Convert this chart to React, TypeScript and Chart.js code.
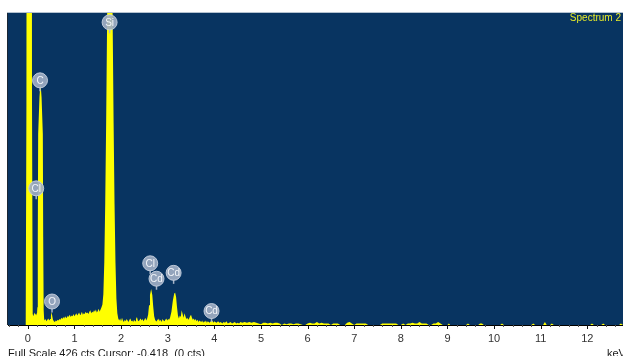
import React, { useEffect, useRef } from 'react';
import { Chart, registerables } from 'chart.js';

Chart.register(...registerables);

// ---- Data ----
const energyKeV = [
  -0.425, -0.06, -0.045, -0.03, -0.015, 0.075, 0.09, 0.105, 0.12, 0.14,
  0.16, 0.18, 0.195, 0.205, 0.214, 0.222, 0.25, 0.272, 0.295, 0.322,
  0.330, 0.340, 0.350, 0.36, 0.38, 0.40, 0.42, 0.44, 0.46, 0.48,
  0.495, 0.51, 0.525, 0.54, 0.56, 0.58, 0.60, 0.62, 0.64, 0.66,
  0.68, 0.70, 0.72, 0.74, 0.76, 0.78, 0.80, 0.82, 0.84, 0.86,
  0.88, 0.90, 0.92, 0.94, 0.96, 0.98, 1.00, 1.02, 1.04, 1.06,
  1.08, 1.10, 1.12, 1.14, 1.16, 1.18, 1.20, 1.22, 1.24, 1.26,
  1.28, 1.30, 1.32, 1.34, 1.36, 1.38, 1.40, 1.42, 1.44, 1.46,
  1.48, 1.50, 1.52, 1.54, 1.56, 1.58, 1.60, 1.62, 1.64, 1.66,
  1.68, 1.70, 1.72, 1.74, 1.76, 1.78, 1.80, 1.82, 1.84, 1.86,
  1.88, 1.90, 1.92, 1.94, 1.96, 1.98, 2.00, 2.02, 2.04, 2.06,
  2.08, 2.10, 2.12, 2.14, 2.16, 2.18, 2.20, 2.22, 2.24, 2.26,
  2.28, 2.30, 2.32, 2.34, 2.36, 2.38, 2.40, 2.42, 2.44, 2.46,
  2.48, 2.50, 2.52, 2.54, 2.56, 2.58, 2.60, 2.62, 2.645, 2.67,
  2.69, 2.71, 2.73, 2.75, 2.77, 2.79, 2.81, 2.83, 2.85, 2.87,
  2.89, 2.91, 2.93, 2.95, 2.97, 2.99, 3.01, 3.03, 3.05, 3.08,
  3.11, 3.14, 3.16, 3.18, 3.20, 3.22, 3.24, 3.26, 3.28, 3.30,
  3.32, 3.34, 3.36, 3.38, 3.40, 3.42, 3.44, 3.46, 3.48, 3.50,
  3.52, 3.54, 3.56, 3.58, 3.60, 3.62, 3.64, 3.66, 3.68, 3.70,
  3.72, 3.74, 3.76, 3.78, 3.80, 3.82, 3.84, 3.86, 3.88, 3.90,
  3.92, 3.94, 3.96, 3.98, 4.00, 4.02, 4.05, 4.08, 4.11, 4.14,
  4.17, 4.20, 4.23, 4.26, 4.29, 4.32, 4.35, 4.38, 4.41, 4.44,
  4.47, 4.50, 4.53, 4.56, 4.60, 4.65, 4.70, 4.75, 4.80, 4.85,
  4.90, 4.95, 5.00, 5.05, 5.10, 5.15, 5.20, 5.25, 5.30, 5.35,
  5.40, 5.45, 5.50, 5.55, 5.60, 5.65, 5.70, 5.75, 5.80, 5.85,
  5.90, 5.95, 6.00, 6.05, 6.10, 6.15, 6.20, 6.25, 6.30, 6.35,
  6.40, 6.45, 6.50, 6.55, 6.60, 6.65, 6.70, 6.80, 6.85, 6.90,
  6.95, 7.00, 7.05, 7.10, 7.15, 7.20, 7.25, 7.30, 7.55, 7.60,
  7.65, 7.70, 7.75, 7.80, 7.85, 7.90, 7.95, 8.00, 8.05, 8.10,
  8.15, 8.20, 8.25, 8.30, 8.35, 8.40, 8.45, 8.50, 8.55, 8.60,
  8.65, 8.70, 8.75, 8.80, 8.85, 8.90, 9.00, 9.03, 9.06, 9.40,
  9.44, 9.48, 9.66, 9.70, 9.74, 9.78, 10.13, 10.17, 10.21, 10.80,
  10.84, 10.88, 11.05, 11.09, 11.13, 11.20, 11.24, 11.28, 12.06, 12.10,
  12.14, 12.30, 12.34, 12.38, 12.68, 12.72, 12.765,
];

const counts = [
  0, 0, 8, 300, 1500, 1500, 300, 15, 12, 17,
  14, 16, 13, 24, 120, 260, 310, 330, 310, 260,
  120, 20, 9, 6, 8, 5, 7, 9, 6, 8,
  12, 18, 12, 7, 5, 4, 6, 5, 7, 6,
  8, 7, 10, 8, 11, 9, 12, 10, 13, 11,
  12, 14, 11, 13, 12, 15, 12, 14, 16, 13,
  15, 17, 14, 15, 18, 14, 16, 15, 18, 16,
  17, 15, 18, 20, 16, 18, 17, 20, 18, 21,
  17, 19, 22, 18, 21, 24, 28, 42, 85, 165,
  275, 410, 550, 660, 700, 660, 550, 410, 275, 165,
  85, 36, 16, 9, 6, 9, 5, 10, 6, 4,
  7, 5, 8, 6, 4, 7, 9, 5, 6, 4,
  7, 5, 8, 11, 6, 5, 7, 9, 6, 8,
  5, 7, 10, 6, 9, 14, 27, 41, 49, 41,
  25, 12, 7, 5, 8, 6, 9, 5, 7, 4,
  8, 6, 5, 7, 9, 6, 8, 7, 10, 18,
  33, 43, 44, 38, 24, 13, 9, 13, 11, 20,
  15, 10, 16, 12, 8, 10, 7, 9, 12, 14,
  10, 7, 9, 6, 8, 5, 7, 4, 6, 5,
  4, 6, 3, 5, 4, 6, 3, 5, 4, 3,
  5, 4, 6, 3, 5, 4, 3, 5, 3, 4,
  2, 4, 3, 5, 2, 3, 4, 2, 3, 4,
  2, 3, 2, 4, 3, 4, 3, 4, 3, 4,
  3, 2, 1, 3, 3, 2, 3, 2, 3, 3,
  2, 0, 2, 1, 2, 2, 1, 2, 2, 1,
  0, 0, 2, 3, 2, 2, 4, 2, 3, 2,
  2, 2, 0, 2, 2, 2, 0, 0, 3, 4,
  2, 0, 2, 2, 2, 2, 2, 0, 0, 2,
  2, 2, 2, 2, 2, 2, 0, 0, 2, 0,
  2, 2, 3, 2, 2, 4, 2, 2, 2, 0,
  0, 2, 2, 4, 2, 0, 0, 2, 0, 0,
  2, 0, 0, 2, 2, 0, 0, 2, 0, 0,
  2, 0, 0, 4, 0, 0, 2, 0, 0, 2,
  0, 0, 2, 0, 0, 2, 0,
];

// Element markers: symbol, energy (keV) and count level of the marker's stem foot
const markerSymbols = ['Si', 'C', 'Cl', 'O', 'Cl', 'Cd', 'Cd', 'Cd'];
const markerKeV = [1.754, 0.262, 0.18, 0.519, 2.625, 2.76, 3.127, 3.94];
const markerCounts = [397, 318, 171, 17, 69, 48, 56, 4];

const fullScaleCounts = 426;
const energyMin = -0.425;
const energyMax = 12.765;
const tickStepKeV = 0.2;

const spectrumTitle = 'Spectrum 2';
const statusLine = 'Full Scale 426 cts Cursor: -0.418  (0 cts)';
const unitLabel = 'keV';

const FONT = '"Liberation Sans", Arial, sans-serif';

const isWhole = (v: number) => Math.abs(v - Math.round(v)) < 1e-6;

const decorPlugin = {
  id: 'edsDecor',
  beforeDraw(chart: any) {
    const { ctx, chartArea: a } = chart;
    ctx.save();
    ctx.fillStyle = '#083461';
    ctx.fillRect(a.left, a.top, a.right - a.left, a.bottom - a.top);
    ctx.restore();
  },
  afterDatasetsDraw(chart: any) {
    const { ctx, chartArea: a, scales } = chart;
    const xs = scales.x;
    const ys = scales.y;
    ctx.save();
    // frame edges
    ctx.lineWidth = 1;
    ctx.strokeStyle = '#1a2633';
    ctx.beginPath();
    ctx.moveTo(a.left - 0.5, a.top);
    ctx.lineTo(a.left - 0.5, a.bottom);
    ctx.stroke();
    ctx.strokeStyle = '#b4c2d0';
    ctx.beginPath();
    ctx.moveTo(a.left - 1, a.top + 0.5);
    ctx.lineTo(a.right, a.top + 0.5);
    ctx.stroke();

    // element markers
    markerSymbols.forEach((sym, i) => {
      const px = xs.getPixelForValue(markerKeV[i]);
      const py = ys.getPixelForValue(markerCounts[i]);
      const cy = py - 11;
      ctx.strokeStyle = 'rgba(175,188,206,0.95)';
      ctx.lineWidth = 1.5;
      ctx.beginPath();
      ctx.moveTo(px, cy + 7);
      ctx.lineTo(px, py);
      ctx.stroke();
      ctx.beginPath();
      ctx.arc(px, cy, 7.5, 0, Math.PI * 2);
      ctx.fillStyle = 'rgba(160,174,196,0.92)';
      ctx.fill();
      ctx.lineWidth = 1;
      ctx.strokeStyle = 'rgba(200,210,224,0.9)';
      ctx.stroke();
      ctx.fillStyle = '#f2f5f9';
      ctx.font = `10px ${FONT}`;
      ctx.textAlign = 'center';
      ctx.textBaseline = 'middle';
      ctx.fillText(sym, px, cy + 0.5);
    });
    ctx.restore();
  },
  afterDraw(chart: any) {
    const { ctx, chartArea: a, scales, width } = chart;
    const xs = scales.x;
    ctx.save();
    // tick marks: long at whole keV, short otherwise
    ctx.lineWidth = 1;
    xs.ticks.forEach((t: any) => {
      const major = isWhole(t.value);
      const px = Math.round(xs.getPixelForValue(t.value)) + 0.5;
      ctx.strokeStyle = major ? '#111111' : '#555555';
      ctx.beginPath();
      ctx.moveTo(px, a.bottom);
      ctx.lineTo(px, a.bottom + (major ? 4 : 2));
      ctx.stroke();
    });
    // texts
    ctx.font = `10px ${FONT}`;
    ctx.fillStyle = '#e6ea2a';
    ctx.textAlign = 'right';
    ctx.textBaseline = 'alphabetic';
    ctx.fillText(spectrumTitle, a.right - 2, a.top + 9);

    ctx.font = `11px ${FONT}`;
    ctx.fillStyle = '#1a1a1a';
    ctx.textAlign = 'left';
    ctx.fillText(statusLine, 8, 357);
    ctx.fillText(unitLabel, width - 16, 357);
    ctx.restore();
  },
};

export default function App() {
  const canvasRef = useRef<HTMLCanvasElement | null>(null);

  useEffect(() => {
    const canvas = canvasRef.current;
    if (!canvas) return;
    const points = energyKeV.map((e, i) => ({ x: e, y: counts[i] }));
    const chart = new Chart(canvas, {
      type: 'line',
      data: {
        datasets: [
          {
            label: spectrumTitle,
            data: points,
            fill: 'origin',
            backgroundColor: '#ffff00',
            borderColor: 'rgba(0,0,0,0)',
            borderWidth: 0,
            pointRadius: 0,
            tension: 0,
          },
        ],
      },
      options: {
        animation: false,
        responsive: false,
        devicePixelRatio: 1,
        layout: { padding: { left: 8, top: 12, right: 0, bottom: 0 } },
        plugins: {
          legend: { display: false },
          tooltip: { enabled: false },
          title: { display: false },
        },
        scales: {
          x: {
            type: 'linear',
            min: energyMin,
            max: energyMax,
            afterFit: (s: any) => {
              s.height = 31;
            },
            border: { display: true, color: '#000000', width: 1 },
            grid: {
              display: true,
              drawOnChartArea: false,
              drawTicks: true,
              tickLength: 4,
              color: 'rgba(0,0,0,0)',
            },
            ticks: {
              stepSize: tickStepKeV,
              maxTicksLimit: 1000,
              autoSkip: false,
              includeBounds: false,
              maxRotation: 0,
              minRotation: 0,
              padding: 3,
              color: '#333333',
              font: { family: FONT, size: 11 },
              callback: (v: any) => (isWhole(Number(v)) ? String(Math.round(Number(v))) : ''),
            },
          },
          y: {
            type: 'linear',
            display: false,
            min: 0,
            max: fullScaleCounts,
          },
        },
      },
      plugins: [decorPlugin],
    });
    return () => chart.destroy();
  }, []);

  return (
    <div style={{ position: 'fixed', left: 0, top: 0, width: 623, height: 356, background: '#ffffff' }}>
      <canvas ref={canvasRef} width={623} height={356} style={{ display: 'block' }} />
    </div>
  );
}
